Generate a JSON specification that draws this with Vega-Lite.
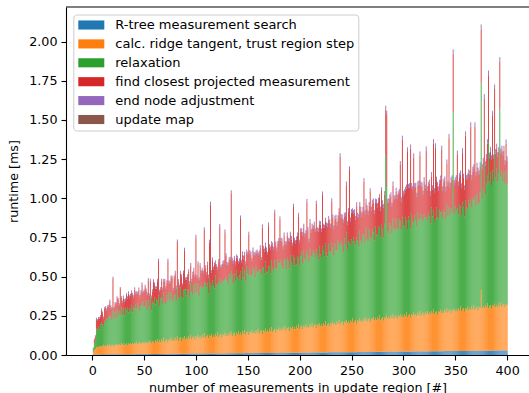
{
"$schema": "https://vega.github.io/schema/vega-lite/v6.json",
"width": 463,
"height": 348,
"autosize": {"type": "none"},
"padding": {"left": 66, "top": 7, "right": 0, "bottom": 38},
"background": "white",
"config": {
  "view": {"stroke": null},
  "font": "DejaVu Sans",
  "axis": {"domainColor": "black", "domainWidth": 1.1, "tickColor": "black", "tickWidth": 1.1, "tickSize": 5, "labelPadding": 4, "labelFontSize": 12.7, "labelColor": "black", "titleFontSize": 12.7, "titleFontWeight": "normal", "titleColor": "black", "grid": false, "labelFont": "DejaVu Sans", "titleFont": "DejaVu Sans"}
},
"data": {"values": [
{"x":1,"a":0.003,"b":0.015,"c":0.02,"d":0.005,"e":0.003,"f":0.002},
{"x":2,"a":0.003,"b":0.028,"c":0.04,"d":0.025,"e":0.005,"f":0.002},
{"x":3,"a":0.003,"b":0.035,"c":0.06,"d":0.02,"e":0.006,"f":0.002},
{"x":4,"a":0.003,"b":0.045,"c":0.12,"d":0.06,"e":0.008,"f":0.002},
{"x":5,"a":0.003,"b":0.048,"c":0.11,"d":0.06,"e":0.007,"f":0.002},
{"x":6,"a":0.003,"b":0.05,"c":0.13,"d":0.05,"e":0.008,"f":0.002},
{"x":7,"a":0.003,"b":0.05,"c":0.11,"d":0.07,"e":0.008,"f":0.002},
{"x":8,"a":0.003,"b":0.052,"c":0.14,"d":0.05,"e":0.009,"f":0.002},
{"x":9,"a":0.004,"b":0.052,"c":0.15,"d":0.08,"e":0.009,"f":0.002},
{"x":10,"a":0.004,"b":0.053,"c":0.14,"d":0.07,"e":0.009,"f":0.002},
{"x":11,"a":0.004,"b":0.061,"c":0.12,"d":0.05,"e":0.009,"f":0.002},
{"x":12,"a":0.004,"b":0.05,"c":0.17,"d":0.07,"e":0.01,"f":0.002},
{"x":13,"a":0.004,"b":0.057,"c":0.15,"d":0.09,"e":0.01,"f":0.002},
{"x":14,"a":0.004,"b":0.05,"c":0.18,"d":0.05,"e":0.01,"f":0.002},
{"x":15,"a":0.004,"b":0.062,"c":0.16,"d":0.08,"e":0.01,"f":0.002},
{"x":16,"a":0.004,"b":0.054,"c":0.19,"d":0.06,"e":0.01,"f":0.002},
{"x":17,"a":0.004,"b":0.067,"c":0.17,"d":0.1,"e":0.01,"f":0.002},
{"x":18,"a":0.004,"b":0.051,"c":0.2,"d":0.05,"e":0.01,"f":0.002},
{"x":19,"a":0.004,"b":0.059,"c":0.16,"d":0.07,"e":0.01,"f":0.002},
{"x":20,"a":0.004,"b":0.062,"c":0.22,"d":0.2,"e":0.012,"f":0.002},
{"x":21,"a":0.004,"b":0.051,"c":0.18,"d":0.06,"e":0.01,"f":0.002},
{"x":22,"a":0.004,"b":0.062,"c":0.21,"d":0.05,"e":0.01,"f":0.002},
{"x":23,"a":0.004,"b":0.059,"c":0.17,"d":0.09,"e":0.01,"f":0.002},
{"x":24,"a":0.005,"b":0.067,"c":0.22,"d":0.07,"e":0.011,"f":0.002},
{"x":25,"a":0.005,"b":0.056,"c":0.19,"d":0.1,"e":0.01,"f":0.002},
{"x":26,"a":0.005,"b":0.063,"c":0.21,"d":0.04,"e":0.011,"f":0.002},
{"x":27,"a":0.005,"b":0.056,"c":0.2,"d":0.16,"e":0.011,"f":0.002},
{"x":28,"a":0.005,"b":0.068,"c":0.23,"d":0.06,"e":0.011,"f":0.002},
{"x":29,"a":0.005,"b":0.06,"c":0.19,"d":0.08,"e":0.011,"f":0.002},
{"x":30,"a":0.005,"b":0.072,"c":0.22,"d":0.07,"e":0.011,"f":0.002},
{"x":31,"a":0.005,"b":0.057,"c":0.19,"d":0.09,"e":0.011,"f":0.002},
{"x":32,"a":0.005,"b":0.064,"c":0.23,"d":0.05,"e":0.011,"f":0.002},
{"x":33,"a":0.005,"b":0.068,"c":0.21,"d":0.1,"e":0.011,"f":0.002},
{"x":34,"a":0.005,"b":0.056,"c":0.24,"d":0.06,"e":0.012,"f":0.002},
{"x":35,"a":0.005,"b":0.068,"c":0.2,"d":0.12,"e":0.012,"f":0.002},
{"x":36,"a":0.005,"b":0.064,"c":0.23,"d":0.07,"e":0.011,"f":0.002},
{"x":37,"a":0.005,"b":0.072,"c":0.21,"d":0.09,"e":0.012,"f":0.002},
{"x":38,"a":0.005,"b":0.062,"c":0.25,"d":0.08,"e":0.012,"f":0.002},
{"x":39,"a":0.005,"b":0.068,"c":0.2,"d":0.11,"e":0.011,"f":0.002},
{"x":40,"a":0.005,"b":0.062,"c":0.24,"d":0.06,"e":0.012,"f":0.002},
{"x":41,"a":0.005,"b":0.073,"c":0.22,"d":0.12,"e":0.012,"f":0.002},
{"x":42,"a":0.005,"b":0.066,"c":0.25,"d":0.07,"e":0.012,"f":0.002},
{"x":43,"a":0.006,"b":0.078,"c":0.21,"d":0.1,"e":0.012,"f":0.002},
{"x":44,"a":0.006,"b":0.062,"c":0.26,"d":0.06,"e":0.012,"f":0.002},
{"x":45,"a":0.006,"b":0.07,"c":0.23,"d":0.11,"e":0.012,"f":0.002},
{"x":46,"a":0.006,"b":0.073,"c":0.2,"d":0.09,"e":0.012,"f":0.002},
{"x":47,"a":0.006,"b":0.062,"c":0.25,"d":0.08,"e":0.012,"f":0.002},
{"x":48,"a":0.006,"b":0.073,"c":0.24,"d":0.13,"e":0.012,"f":0.002},
{"x":49,"a":0.006,"b":0.069,"c":0.27,"d":0.05,"e":0.012,"f":0.002},
{"x":50,"a":0.006,"b":0.078,"c":0.22,"d":0.1,"e":0.012,"f":0.002},
{"x":51,"a":0.006,"b":0.068,"c":0.24,"d":0.12,"e":0.012,"f":0.002},
{"x":52,"a":0.006,"b":0.075,"c":0.27,"d":0.06,"e":0.012,"f":0.002},
{"x":53,"a":0.006,"b":0.068,"c":0.22,"d":0.09,"e":0.012,"f":0.002},
{"x":54,"a":0.006,"b":0.08,"c":0.26,"d":0.13,"e":0.013,"f":0.002},
{"x":55,"a":0.006,"b":0.073,"c":0.23,"d":0.07,"e":0.012,"f":0.002},
{"x":56,"a":0.006,"b":0.085,"c":0.28,"d":0.1,"e":0.013,"f":0.002},
{"x":57,"a":0.006,"b":0.07,"c":0.21,"d":0.08,"e":0.012,"f":0.002},
{"x":58,"a":0.006,"b":0.078,"c":0.26,"d":0.06,"e":0.013,"f":0.002},
{"x":59,"a":0.007,"b":0.081,"c":0.24,"d":0.14,"e":0.013,"f":0.002},
{"x":60,"a":0.007,"b":0.07,"c":0.29,"d":0.08,"e":0.013,"f":0.002},
{"x":61,"a":0.007,"b":0.085,"c":0.23,"d":0.1,"e":0.013,"f":0.002},
{"x":62,"a":0.007,"b":0.077,"c":0.27,"d":0.07,"e":0.013,"f":0.002},
{"x":63,"a":0.007,"b":0.094,"c":0.25,"d":0.12,"e":0.013,"f":0.002},
{"x":64,"a":0.007,"b":0.073,"c":0.3,"d":0.22,"e":0.013,"f":0.002},
{"x":65,"a":0.007,"b":0.085,"c":0.22,"d":0.09,"e":0.013,"f":0.002},
{"x":66,"a":0.007,"b":0.072,"c":0.28,"d":0.06,"e":0.013,"f":0.002},
{"x":67,"a":0.007,"b":0.095,"c":0.26,"d":0.11,"e":0.013,"f":0.002},
{"x":68,"a":0.007,"b":0.079,"c":0.24,"d":0.09,"e":0.013,"f":0.002},
{"x":69,"a":0.007,"b":0.104,"c":0.29,"d":0.07,"e":0.013,"f":0.002},
{"x":70,"a":0.007,"b":0.073,"c":0.26,"d":0.13,"e":0.013,"f":0.002},
{"x":71,"a":0.007,"b":0.087,"c":0.23,"d":0.1,"e":0.013,"f":0.002},
{"x":72,"a":0.007,"b":0.094,"c":0.28,"d":0.08,"e":0.014,"f":0.002},
{"x":73,"a":0.007,"b":0.071,"c":0.27,"d":0.25,"e":0.014,"f":0.002},
{"x":74,"a":0.007,"b":0.093,"c":0.3,"d":0.06,"e":0.014,"f":0.002},
{"x":75,"a":0.008,"b":0.086,"c":0.25,"d":0.11,"e":0.014,"f":0.002},
{"x":76,"a":0.008,"b":0.103,"c":0.29,"d":0.09,"e":0.014,"f":0.002},
{"x":77,"a":0.008,"b":0.081,"c":0.27,"d":0.13,"e":0.014,"f":0.002},
{"x":78,"a":0.008,"b":0.094,"c":0.24,"d":0.07,"e":0.014,"f":0.002},
{"x":79,"a":0.008,"b":0.081,"c":0.3,"d":0.1,"e":0.014,"f":0.002},
{"x":80,"a":0.008,"b":0.103,"c":0.27,"d":0.14,"e":0.014,"f":0.002},
{"x":81,"a":0.008,"b":0.088,"c":0.25,"d":0.08,"e":0.014,"f":0.002},
{"x":82,"a":0.008,"b":0.113,"c":0.31,"d":0.29,"e":0.014,"f":0.002},
{"x":83,"a":0.008,"b":0.081,"c":0.28,"d":0.1,"e":0.014,"f":0.002},
{"x":84,"a":0.008,"b":0.096,"c":0.26,"d":0.07,"e":0.014,"f":0.002},
{"x":85,"a":0.008,"b":0.103,"c":0.32,"d":0.09,"e":0.014,"f":0.002},
{"x":86,"a":0.008,"b":0.079,"c":0.29,"d":0.12,"e":0.014,"f":0.002},
{"x":87,"a":0.008,"b":0.102,"c":0.25,"d":0.08,"e":0.014,"f":0.002},
{"x":88,"a":0.008,"b":0.095,"c":0.31,"d":0.11,"e":0.014,"f":0.002},
{"x":89,"a":0.008,"b":0.111,"c":0.3,"d":0.25,"e":0.014,"f":0.002},
{"x":90,"a":0.008,"b":0.09,"c":0.32,"d":0.06,"e":0.014,"f":0.002},
{"x":91,"a":0.008,"b":0.103,"c":0.27,"d":0.1,"e":0.014,"f":0.002},
{"x":92,"a":0.009,"b":0.089,"c":0.32,"d":0.08,"e":0.015,"f":0.002},
{"x":93,"a":0.009,"b":0.112,"c":0.29,"d":0.12,"e":0.015,"f":0.002},
{"x":94,"a":0.009,"b":0.097,"c":0.26,"d":0.09,"e":0.015,"f":0.002},
{"x":95,"a":0.009,"b":0.121,"c":0.33,"d":0.11,"e":0.015,"f":0.002},
{"x":96,"a":0.009,"b":0.09,"c":0.3,"d":0.07,"e":0.015,"f":0.002},
{"x":97,"a":0.009,"b":0.105,"c":0.27,"d":0.13,"e":0.015,"f":0.002},
{"x":98,"a":0.009,"b":0.111,"c":0.33,"d":0.09,"e":0.015,"f":0.002},
{"x":99,"a":0.009,"b":0.088,"c":0.3,"d":0.1,"e":0.015,"f":0.002},
{"x":100,"a":0.009,"b":0.111,"c":0.34,"d":0.29,"e":0.015,"f":0.002},
{"x":101,"a":0.009,"b":0.103,"c":0.29,"d":0.09,"e":0.015,"f":0.002},
{"x":102,"a":0.009,"b":0.12,"c":0.33,"d":0.12,"e":0.015,"f":0.002},
{"x":103,"a":0.009,"b":0.098,"c":0.27,"d":0.1,"e":0.015,"f":0.002},
{"x":104,"a":0.009,"b":0.111,"c":0.31,"d":0.14,"e":0.015,"f":0.002},
{"x":105,"a":0.009,"b":0.097,"c":0.34,"d":0.08,"e":0.015,"f":0.002},
{"x":106,"a":0.009,"b":0.12,"c":0.3,"d":0.11,"e":0.015,"f":0.002},
{"x":107,"a":0.009,"b":0.104,"c":0.32,"d":0.09,"e":0.015,"f":0.002},
{"x":108,"a":0.009,"b":0.129,"c":0.33,"d":0.33,"e":0.015,"f":0.002},
{"x":109,"a":0.009,"b":0.097,"c":0.35,"d":0.1,"e":0.015,"f":0.002},
{"x":110,"a":0.01,"b":0.112,"c":0.31,"d":0.08,"e":0.015,"f":0.002},
{"x":111,"a":0.01,"b":0.118,"c":0.33,"d":0.12,"e":0.015,"f":0.002},
{"x":112,"a":0.01,"b":0.095,"c":0.29,"d":0.1,"e":0.015,"f":0.002},
{"x":113,"a":0.01,"b":0.117,"c":0.36,"d":0.23,"e":0.016,"f":0.002},
{"x":114,"a":0.01,"b":0.11,"c":0.34,"d":0.5,"e":0.016,"f":0.002},
{"x":115,"a":0.01,"b":0.126,"c":0.3,"d":0.09,"e":0.015,"f":0.002},
{"x":116,"a":0.01,"b":0.105,"c":0.36,"d":0.13,"e":0.016,"f":0.002},
{"x":117,"a":0.01,"b":0.117,"c":0.32,"d":0.1,"e":0.016,"f":0.002},
{"x":118,"a":0.01,"b":0.104,"c":0.31,"d":0.15,"e":0.016,"f":0.002},
{"x":119,"a":0.01,"b":0.126,"c":0.37,"d":0.08,"e":0.016,"f":0.002},
{"x":120,"a":0.01,"b":0.111,"c":0.33,"d":0.11,"e":0.016,"f":0.002},
{"x":121,"a":0.01,"b":0.135,"c":0.3,"d":0.1,"e":0.016,"f":0.002},
{"x":122,"a":0.01,"b":0.104,"c":0.35,"d":0.13,"e":0.016,"f":0.002},
{"x":123,"a":0.01,"b":0.118,"c":0.36,"d":0.33,"e":0.016,"f":0.002},
{"x":124,"a":0.01,"b":0.125,"c":0.32,"d":0.1,"e":0.016,"f":0.002},
{"x":125,"a":0.01,"b":0.101,"c":0.37,"d":0.08,"e":0.016,"f":0.002},
{"x":126,"a":0.01,"b":0.124,"c":0.33,"d":0.12,"e":0.016,"f":0.002},
{"x":127,"a":0.01,"b":0.116,"c":0.35,"d":0.11,"e":0.016,"f":0.002},
{"x":128,"a":0.01,"b":0.133,"c":0.34,"d":0.3,"e":0.016,"f":0.002},
{"x":129,"a":0.01,"b":0.111,"c":0.38,"d":0.13,"e":0.016,"f":0.002},
{"x":130,"a":0.011,"b":0.124,"c":0.34,"d":0.1,"e":0.016,"f":0.002},
{"x":131,"a":0.011,"b":0.111,"c":0.33,"d":0.12,"e":0.016,"f":0.002},
{"x":132,"a":0.011,"b":0.133,"c":0.37,"d":0.09,"e":0.016,"f":0.002},
{"x":133,"a":0.011,"b":0.118,"c":0.36,"d":0.12,"e":0.016,"f":0.002},
{"x":134,"a":0.011,"b":0.142,"c":0.38,"d":0.5,"e":0.017,"f":0.002},
{"x":135,"a":0.011,"b":0.111,"c":0.39,"d":0.09,"e":0.016,"f":0.002},
{"x":136,"a":0.011,"b":0.125,"c":0.32,"d":0.13,"e":0.016,"f":0.002},
{"x":137,"a":0.011,"b":0.132,"c":0.37,"d":0.1,"e":0.016,"f":0.002},
{"x":138,"a":0.011,"b":0.108,"c":0.35,"d":0.11,"e":0.016,"f":0.002},
{"x":139,"a":0.011,"b":0.131,"c":0.4,"d":0.08,"e":0.017,"f":0.002},
{"x":140,"a":0.011,"b":0.123,"c":0.36,"d":0.12,"e":0.017,"f":0.002},
{"x":141,"a":0.011,"b":0.14,"c":0.33,"d":0.1,"e":0.017,"f":0.002},
{"x":142,"a":0.011,"b":0.118,"c":0.38,"d":0.09,"e":0.017,"f":0.002},
{"x":143,"a":0.011,"b":0.131,"c":0.39,"d":0.34,"e":0.017,"f":0.002},
{"x":144,"a":0.011,"b":0.117,"c":0.35,"d":0.11,"e":0.017,"f":0.002},
{"x":145,"a":0.011,"b":0.14,"c":0.41,"d":0.08,"e":0.017,"f":0.002},
{"x":146,"a":0.011,"b":0.124,"c":0.36,"d":0.12,"e":0.017,"f":0.002},
{"x":147,"a":0.011,"b":0.149,"c":0.38,"d":0.1,"e":0.017,"f":0.002},
{"x":148,"a":0.012,"b":0.117,"c":0.34,"d":0.11,"e":0.017,"f":0.002},
{"x":149,"a":0.012,"b":0.132,"c":0.42,"d":0.09,"e":0.017,"f":0.002},
{"x":150,"a":0.012,"b":0.138,"c":0.37,"d":0.12,"e":0.017,"f":0.002},
{"x":151,"a":0.012,"b":0.115,"c":0.38,"d":0.26,"e":0.017,"f":0.002},
{"x":152,"a":0.012,"b":0.137,"c":0.4,"d":0.1,"e":0.017,"f":0.002},
{"x":153,"a":0.012,"b":0.13,"c":0.37,"d":0.13,"e":0.017,"f":0.002},
{"x":154,"a":0.012,"b":0.146,"c":0.35,"d":0.09,"e":0.017,"f":0.002},
{"x":155,"a":0.012,"b":0.125,"c":0.42,"d":0.11,"e":0.017,"f":0.002},
{"x":156,"a":0.012,"b":0.137,"c":0.39,"d":0.1,"e":0.017,"f":0.002},
{"x":157,"a":0.012,"b":0.124,"c":0.36,"d":0.14,"e":0.017,"f":0.002},
{"x":158,"a":0.012,"b":0.146,"c":0.41,"d":0.08,"e":0.017,"f":0.002},
{"x":159,"a":0.012,"b":0.131,"c":0.39,"d":0.12,"e":0.017,"f":0.002},
{"x":160,"a":0.012,"b":0.155,"c":0.36,"d":0.11,"e":0.017,"f":0.002},
{"x":161,"a":0.012,"b":0.124,"c":0.41,"d":0.1,"e":0.017,"f":0.002},
{"x":162,"a":0.012,"b":0.139,"c":0.39,"d":0.14,"e":0.018,"f":0.002},
{"x":163,"a":0.012,"b":0.145,"c":0.36,"d":0.09,"e":0.017,"f":0.002},
{"x":164,"a":0.012,"b":0.122,"c":0.42,"d":0.26,"e":0.018,"f":0.002},
{"x":165,"a":0.012,"b":0.145,"c":0.4,"d":0.12,"e":0.018,"f":0.002},
{"x":166,"a":0.012,"b":0.137,"c":0.37,"d":0.14,"e":0.018,"f":0.002},
{"x":167,"a":0.013,"b":0.154,"c":0.43,"d":0.1,"e":0.018,"f":0.002},
{"x":168,"a":0.013,"b":0.133,"c":0.39,"d":0.13,"e":0.018,"f":0.002},
{"x":169,"a":0.013,"b":0.145,"c":0.37,"d":0.11,"e":0.018,"f":0.002},
{"x":170,"a":0.013,"b":0.132,"c":0.42,"d":0.26,"e":0.018,"f":0.002},
{"x":171,"a":0.013,"b":0.155,"c":0.4,"d":0.12,"e":0.018,"f":0.002},
{"x":172,"a":0.013,"b":0.139,"c":0.37,"d":0.15,"e":0.018,"f":0.002},
{"x":173,"a":0.013,"b":0.164,"c":0.43,"d":0.1,"e":0.018,"f":0.002},
{"x":174,"a":0.013,"b":0.133,"c":0.41,"d":0.14,"e":0.018,"f":0.002},
{"x":175,"a":0.013,"b":0.147,"c":0.38,"d":0.13,"e":0.018,"f":0.002},
{"x":176,"a":0.013,"b":0.154,"c":0.44,"d":0.3,"e":0.018,"f":0.002},
{"x":177,"a":0.013,"b":0.131,"c":0.41,"d":0.15,"e":0.018,"f":0.002},
{"x":178,"a":0.013,"b":0.153,"c":0.38,"d":0.12,"e":0.018,"f":0.002},
{"x":179,"a":0.013,"b":0.146,"c":0.45,"d":0.1,"e":0.018,"f":0.002},
{"x":180,"a":0.013,"b":0.163,"c":0.41,"d":0.14,"e":0.018,"f":0.002},
{"x":181,"a":0.013,"b":0.141,"c":0.43,"d":0.28,"e":0.018,"f":0.002},
{"x":182,"a":0.014,"b":0.154,"c":0.44,"d":0.12,"e":0.018,"f":0.002},
{"x":183,"a":0.014,"b":0.141,"c":0.41,"d":0.16,"e":0.018,"f":0.002},
{"x":184,"a":0.014,"b":0.163,"c":0.37,"d":0.13,"e":0.018,"f":0.002},
{"x":185,"a":0.014,"b":0.148,"c":0.45,"d":0.15,"e":0.018,"f":0.002},
{"x":186,"a":0.014,"b":0.173,"c":0.42,"d":0.1,"e":0.018,"f":0.002},
{"x":187,"a":0.014,"b":0.141,"c":0.39,"d":0.16,"e":0.018,"f":0.002},
{"x":188,"a":0.014,"b":0.156,"c":0.45,"d":0.14,"e":0.019,"f":0.002},
{"x":189,"a":0.014,"b":0.163,"c":0.43,"d":0.12,"e":0.019,"f":0.002},
{"x":190,"a":0.014,"b":0.139,"c":0.4,"d":0.17,"e":0.019,"f":0.002},
{"x":191,"a":0.014,"b":0.162,"c":0.46,"d":0.13,"e":0.019,"f":0.002},
{"x":192,"a":0.014,"b":0.155,"c":0.42,"d":0.15,"e":0.019,"f":0.002},
{"x":193,"a":0.014,"b":0.171,"c":0.39,"d":0.12,"e":0.019,"f":0.002},
{"x":194,"a":0.014,"b":0.15,"c":0.47,"d":0.31,"e":0.019,"f":0.002},
{"x":195,"a":0.014,"b":0.163,"c":0.44,"d":0.11,"e":0.019,"f":0.002},
{"x":196,"a":0.014,"b":0.149,"c":0.41,"d":0.14,"e":0.019,"f":0.002},
{"x":197,"a":0.014,"b":0.172,"c":0.39,"d":0.16,"e":0.019,"f":0.002},
{"x":198,"a":0.014,"b":0.157,"c":0.46,"d":0.13,"e":0.019,"f":0.002},
{"x":199,"a":0.015,"b":0.181,"c":0.43,"d":0.26,"e":0.019,"f":0.002},
{"x":200,"a":0.015,"b":0.15,"c":0.41,"d":0.14,"e":0.019,"f":0.002},
{"x":201,"a":0.015,"b":0.165,"c":0.45,"d":0.16,"e":0.019,"f":0.002},
{"x":202,"a":0.015,"b":0.171,"c":0.47,"d":0.13,"e":0.019,"f":0.002},
{"x":203,"a":0.015,"b":0.148,"c":0.42,"d":0.18,"e":0.019,"f":0.002},
{"x":204,"a":0.015,"b":0.171,"c":0.48,"d":0.15,"e":0.019,"f":0.002},
{"x":205,"a":0.015,"b":0.163,"c":0.44,"d":0.14,"e":0.019,"f":0.002},
{"x":206,"a":0.015,"b":0.18,"c":0.41,"d":0.17,"e":0.019,"f":0.002},
{"x":207,"a":0.015,"b":0.159,"c":0.49,"d":0.31,"e":0.02,"f":0.002},
{"x":208,"a":0.015,"b":0.171,"c":0.45,"d":0.16,"e":0.019,"f":0.002},
{"x":209,"a":0.015,"b":0.158,"c":0.42,"d":0.13,"e":0.019,"f":0.002},
{"x":210,"a":0.015,"b":0.181,"c":0.48,"d":0.17,"e":0.02,"f":0.002},
{"x":211,"a":0.015,"b":0.165,"c":0.45,"d":0.15,"e":0.02,"f":0.002},
{"x":212,"a":0.016,"b":0.19,"c":0.42,"d":0.19,"e":0.02,"f":0.002},
{"x":213,"a":0.016,"b":0.159,"c":0.49,"d":0.14,"e":0.02,"f":0.002},
{"x":214,"a":0.016,"b":0.173,"c":0.46,"d":0.18,"e":0.02,"f":0.002},
{"x":215,"a":0.016,"b":0.18,"c":0.43,"d":0.16,"e":0.02,"f":0.002},
{"x":216,"a":0.016,"b":0.157,"c":0.5,"d":0.29,"e":0.02,"f":0.002},
{"x":217,"a":0.016,"b":0.179,"c":0.45,"d":0.15,"e":0.02,"f":0.002},
{"x":218,"a":0.016,"b":0.172,"c":0.42,"d":0.18,"e":0.02,"f":0.002},
{"x":219,"a":0.016,"b":0.188,"c":0.49,"d":0.14,"e":0.02,"f":0.002},
{"x":220,"a":0.016,"b":0.167,"c":0.46,"d":0.19,"e":0.02,"f":0.002},
{"x":221,"a":0.016,"b":0.18,"c":0.43,"d":0.16,"e":0.02,"f":0.002},
{"x":222,"a":0.016,"b":0.166,"c":0.51,"d":0.33,"e":0.02,"f":0.002},
{"x":223,"a":0.016,"b":0.189,"c":0.46,"d":0.15,"e":0.02,"f":0.002},
{"x":224,"a":0.016,"b":0.174,"c":0.44,"d":0.18,"e":0.02,"f":0.002},
{"x":225,"a":0.016,"b":0.198,"c":0.5,"d":0.14,"e":0.02,"f":0.002},
{"x":226,"a":0.016,"b":0.167,"c":0.47,"d":0.17,"e":0.02,"f":0.002},
{"x":227,"a":0.016,"b":0.182,"c":0.43,"d":0.19,"e":0.02,"f":0.002},
{"x":228,"a":0.017,"b":0.188,"c":0.51,"d":0.15,"e":0.02,"f":0.002},
{"x":229,"a":0.017,"b":0.165,"c":0.48,"d":0.18,"e":0.02,"f":0.002},
{"x":230,"a":0.017,"b":0.188,"c":0.45,"d":0.16,"e":0.02,"f":0.002},
{"x":231,"a":0.017,"b":0.18,"c":0.52,"d":0.26,"e":0.021,"f":0.002},
{"x":232,"a":0.017,"b":0.197,"c":0.47,"d":0.19,"e":0.021,"f":0.002},
{"x":233,"a":0.017,"b":0.176,"c":0.44,"d":0.17,"e":0.021,"f":0.002},
{"x":234,"a":0.017,"b":0.188,"c":0.51,"d":0.15,"e":0.021,"f":0.002},
{"x":235,"a":0.017,"b":0.175,"c":0.48,"d":0.2,"e":0.021,"f":0.002},
{"x":236,"a":0.017,"b":0.198,"c":0.45,"d":0.16,"e":0.021,"f":0.002},
{"x":237,"a":0.017,"b":0.182,"c":0.53,"d":0.14,"e":0.021,"f":0.002},
{"x":238,"a":0.017,"b":0.207,"c":0.49,"d":0.2,"e":0.021,"f":0.002},
{"x":239,"a":0.017,"b":0.176,"c":0.5,"d":0.57,"e":0.022,"f":0.002},
{"x":240,"a":0.017,"b":0.19,"c":0.52,"d":0.15,"e":0.021,"f":0.002},
{"x":241,"a":0.017,"b":0.197,"c":0.49,"d":0.17,"e":0.021,"f":0.002},
{"x":242,"a":0.018,"b":0.174,"c":0.46,"d":0.19,"e":0.021,"f":0.002},
{"x":243,"a":0.018,"b":0.196,"c":0.53,"d":0.14,"e":0.021,"f":0.002},
{"x":244,"a":0.018,"b":0.189,"c":0.5,"d":0.18,"e":0.021,"f":0.002},
{"x":245,"a":0.018,"b":0.206,"c":0.56,"d":0.3,"e":0.022,"f":0.002},
{"x":246,"a":0.018,"b":0.184,"c":0.47,"d":0.16,"e":0.021,"f":0.002},
{"x":247,"a":0.018,"b":0.197,"c":0.51,"d":0.19,"e":0.021,"f":0.002},
{"x":248,"a":0.018,"b":0.183,"c":0.52,"d":0.46,"e":0.022,"f":0.002},
{"x":249,"a":0.018,"b":0.206,"c":0.48,"d":0.15,"e":0.021,"f":0.002},
{"x":250,"a":0.018,"b":0.191,"c":0.53,"d":0.17,"e":0.021,"f":0.002},
{"x":251,"a":0.018,"b":0.215,"c":0.49,"d":0.19,"e":0.021,"f":0.002},
{"x":252,"a":0.018,"b":0.184,"c":0.55,"d":0.15,"e":0.022,"f":0.002},
{"x":253,"a":0.018,"b":0.199,"c":0.51,"d":0.18,"e":0.022,"f":0.002},
{"x":254,"a":0.018,"b":0.205,"c":0.48,"d":0.16,"e":0.022,"f":0.002},
{"x":255,"a":0.018,"b":0.182,"c":0.55,"d":0.2,"e":0.022,"f":0.002},
{"x":256,"a":0.019,"b":0.205,"c":0.51,"d":0.15,"e":0.022,"f":0.002},
{"x":257,"a":0.019,"b":0.197,"c":0.48,"d":0.18,"e":0.022,"f":0.002},
{"x":258,"a":0.019,"b":0.214,"c":0.56,"d":0.16,"e":0.022,"f":0.002},
{"x":259,"a":0.019,"b":0.193,"c":0.52,"d":0.19,"e":0.022,"f":0.002},
{"x":260,"a":0.019,"b":0.205,"c":0.49,"d":0.17,"e":0.022,"f":0.002},
{"x":261,"a":0.019,"b":0.192,"c":0.56,"d":0.15,"e":0.022,"f":0.002},
{"x":262,"a":0.019,"b":0.215,"c":0.53,"d":0.34,"e":0.022,"f":0.002},
{"x":263,"a":0.019,"b":0.199,"c":0.5,"d":0.18,"e":0.022,"f":0.002},
{"x":264,"a":0.019,"b":0.224,"c":0.57,"d":0.16,"e":0.022,"f":0.002},
{"x":265,"a":0.019,"b":0.193,"c":0.53,"d":0.19,"e":0.022,"f":0.002},
{"x":266,"a":0.019,"b":0.207,"c":0.5,"d":0.17,"e":0.022,"f":0.002},
{"x":267,"a":0.019,"b":0.214,"c":0.57,"d":0.15,"e":0.022,"f":0.002},
{"x":268,"a":0.019,"b":0.191,"c":0.54,"d":0.29,"e":0.022,"f":0.002},
{"x":269,"a":0.019,"b":0.213,"c":0.51,"d":0.18,"e":0.022,"f":0.002},
{"x":270,"a":0.02,"b":0.206,"c":0.58,"d":0.16,"e":0.022,"f":0.002},
{"x":271,"a":0.02,"b":0.223,"c":0.54,"d":0.19,"e":0.023,"f":0.002},
{"x":272,"a":0.02,"b":0.201,"c":0.51,"d":0.17,"e":0.023,"f":0.002},
{"x":273,"a":0.02,"b":0.214,"c":0.59,"d":0.15,"e":0.023,"f":0.002},
{"x":274,"a":0.02,"b":0.201,"c":0.55,"d":0.2,"e":0.023,"f":0.002},
{"x":275,"a":0.02,"b":0.223,"c":0.52,"d":0.18,"e":0.023,"f":0.002},
{"x":276,"a":0.02,"b":0.208,"c":0.59,"d":0.16,"e":0.023,"f":0.002},
{"x":277,"a":0.02,"b":0.232,"c":0.56,"d":0.19,"e":0.023,"f":0.002},
{"x":278,"a":0.02,"b":0.201,"c":0.53,"d":0.17,"e":0.023,"f":0.002},
{"x":279,"a":0.02,"b":0.216,"c":0.6,"d":0.21,"e":0.023,"f":0.002},
{"x":280,"a":0.02,"b":0.222,"c":0.56,"d":0.16,"e":0.023,"f":0.002},
{"x":281,"a":0.02,"b":0.199,"c":0.53,"d":0.19,"e":0.023,"f":0.002},
{"x":282,"a":0.02,"b":0.222,"c":0.6,"d":0.18,"e":0.023,"f":0.002},
{"x":283,"a":0.021,"b":0.214,"c":1.04,"d":0.29,"e":0.023,"f":0.002},
{"x":284,"a":0.021,"b":0.231,"c":0.82,"d":0.46,"e":0.023,"f":0.002},
{"x":285,"a":0.021,"b":0.21,"c":0.56,"d":0.18,"e":0.023,"f":0.002},
{"x":286,"a":0.021,"b":0.222,"c":0.53,"d":0.2,"e":0.023,"f":0.002},
{"x":287,"a":0.021,"b":0.209,"c":0.61,"d":0.16,"e":0.023,"f":0.002},
{"x":288,"a":0.021,"b":0.232,"c":0.57,"d":0.19,"e":0.023,"f":0.002},
{"x":289,"a":0.021,"b":0.216,"c":0.54,"d":0.17,"e":0.023,"f":0.002},
{"x":290,"a":0.021,"b":0.241,"c":0.61,"d":0.21,"e":0.023,"f":0.002},
{"x":291,"a":0.021,"b":0.21,"c":0.58,"d":0.18,"e":0.023,"f":0.002},
{"x":292,"a":0.021,"b":0.224,"c":0.55,"d":0.2,"e":0.024,"f":0.002},
{"x":293,"a":0.021,"b":0.231,"c":0.62,"d":0.17,"e":0.024,"f":0.002},
{"x":294,"a":0.021,"b":0.208,"c":0.58,"d":0.19,"e":0.024,"f":0.002},
{"x":295,"a":0.021,"b":0.23,"c":0.55,"d":0.22,"e":0.024,"f":0.002},
{"x":296,"a":0.021,"b":0.223,"c":0.62,"d":0.17,"e":0.024,"f":0.002},
{"x":297,"a":0.022,"b":0.24,"c":0.59,"d":0.36,"e":0.024,"f":0.002},
{"x":298,"a":0.022,"b":0.218,"c":0.56,"d":0.18,"e":0.024,"f":0.002},
{"x":299,"a":0.022,"b":0.231,"c":0.63,"d":0.49,"e":0.024,"f":0.002},
{"x":300,"a":0.022,"b":0.218,"c":0.59,"d":0.19,"e":0.024,"f":0.002},
{"x":301,"a":0.022,"b":0.24,"c":0.56,"d":0.21,"e":0.024,"f":0.002},
{"x":302,"a":0.022,"b":0.225,"c":0.63,"d":0.17,"e":0.024,"f":0.002},
{"x":303,"a":0.022,"b":0.25,"c":0.59,"d":0.2,"e":0.024,"f":0.002},
{"x":304,"a":0.022,"b":0.218,"c":0.56,"d":0.5,"e":0.024,"f":0.002},
{"x":305,"a":0.022,"b":0.233,"c":0.63,"d":0.18,"e":0.024,"f":0.002},
{"x":306,"a":0.022,"b":0.239,"c":0.6,"d":0.21,"e":0.024,"f":0.002},
{"x":307,"a":0.022,"b":0.216,"c":0.57,"d":0.51,"e":0.024,"f":0.002},
{"x":308,"a":0.022,"b":0.239,"c":0.64,"d":0.17,"e":0.024,"f":0.002},
{"x":309,"a":0.022,"b":0.231,"c":0.6,"d":0.2,"e":0.024,"f":0.002},
{"x":310,"a":0.023,"b":0.248,"c":0.57,"d":0.42,"e":0.024,"f":0.002},
{"x":311,"a":0.023,"b":0.227,"c":0.64,"d":0.18,"e":0.024,"f":0.002},
{"x":312,"a":0.023,"b":0.239,"c":0.6,"d":0.21,"e":0.025,"f":0.002},
{"x":313,"a":0.023,"b":0.226,"c":0.57,"d":0.19,"e":0.025,"f":0.002},
{"x":314,"a":0.023,"b":0.249,"c":0.64,"d":0.17,"e":0.025,"f":0.002},
{"x":315,"a":0.023,"b":0.233,"c":0.61,"d":0.22,"e":0.025,"f":0.002},
{"x":316,"a":0.023,"b":0.258,"c":0.58,"d":0.41,"e":0.025,"f":0.002},
{"x":317,"a":0.023,"b":0.227,"c":0.65,"d":0.18,"e":0.025,"f":0.002},
{"x":318,"a":0.023,"b":0.241,"c":0.61,"d":0.2,"e":0.025,"f":0.002},
{"x":319,"a":0.023,"b":0.248,"c":0.58,"d":0.17,"e":0.025,"f":0.002},
{"x":320,"a":0.023,"b":0.225,"c":0.65,"d":0.21,"e":0.025,"f":0.002},
{"x":321,"a":0.023,"b":0.247,"c":0.61,"d":0.18,"e":0.025,"f":0.002},
{"x":322,"a":0.023,"b":0.24,"c":0.62,"d":0.42,"e":0.025,"f":0.002},
{"x":323,"a":0.023,"b":0.257,"c":0.58,"d":0.19,"e":0.025,"f":0.002},
{"x":324,"a":0.023,"b":0.235,"c":0.65,"d":0.17,"e":0.025,"f":0.002},
{"x":325,"a":0.024,"b":0.248,"c":0.61,"d":0.21,"e":0.025,"f":0.002},
{"x":326,"a":0.024,"b":0.235,"c":0.58,"d":0.18,"e":0.025,"f":0.002},
{"x":327,"a":0.024,"b":0.257,"c":0.66,"d":0.2,"e":0.025,"f":0.002},
{"x":328,"a":0.024,"b":0.242,"c":0.62,"d":0.17,"e":0.025,"f":0.002},
{"x":329,"a":0.024,"b":0.267,"c":0.63,"d":0.43,"e":0.025,"f":0.002},
{"x":330,"a":0.024,"b":0.235,"c":0.59,"d":0.19,"e":0.025,"f":0.002},
{"x":331,"a":0.024,"b":0.25,"c":0.6,"d":0.45,"e":0.025,"f":0.002},
{"x":332,"a":0.024,"b":0.257,"c":0.66,"d":0.17,"e":0.025,"f":0.002},
{"x":333,"a":0.024,"b":0.233,"c":0.62,"d":0.2,"e":0.025,"f":0.002},
{"x":334,"a":0.024,"b":0.256,"c":0.59,"d":0.18,"e":0.025,"f":0.002},
{"x":335,"a":0.024,"b":0.248,"c":0.66,"d":0.16,"e":0.025,"f":0.002},
{"x":336,"a":0.024,"b":0.265,"c":0.62,"d":0.21,"e":0.025,"f":0.002},
{"x":337,"a":0.024,"b":0.244,"c":0.64,"d":0.4,"e":0.026,"f":0.002},
{"x":338,"a":0.024,"b":0.256,"c":0.59,"d":0.18,"e":0.025,"f":0.002},
{"x":339,"a":0.024,"b":0.243,"c":0.66,"d":0.17,"e":0.025,"f":0.002},
{"x":340,"a":0.025,"b":0.266,"c":0.62,"d":0.2,"e":0.026,"f":0.002},
{"x":341,"a":0.025,"b":0.25,"c":0.59,"d":0.18,"e":0.026,"f":0.002},
{"x":342,"a":0.025,"b":0.275,"c":0.66,"d":0.26,"e":0.026,"f":0.002},
{"x":343,"a":0.025,"b":0.244,"c":0.62,"d":0.19,"e":0.026,"f":0.002},
{"x":344,"a":0.025,"b":0.258,"c":0.66,"d":0.44,"e":0.026,"f":0.002},
{"x":345,"a":0.025,"b":0.265,"c":0.6,"d":0.18,"e":0.026,"f":0.002},
{"x":346,"a":0.025,"b":0.242,"c":0.67,"d":0.17,"e":0.026,"f":0.002},
{"x":347,"a":0.025,"b":0.264,"c":0.63,"d":0.2,"e":0.026,"f":0.002},
{"x":348,"a":0.025,"b":0.257,"c":1.27,"d":0.37,"e":0.027,"f":0.002},
{"x":349,"a":0.025,"b":0.274,"c":0.6,"d":0.19,"e":0.026,"f":0.002},
{"x":350,"a":0.025,"b":0.252,"c":0.67,"d":0.16,"e":0.026,"f":0.002},
{"x":351,"a":0.025,"b":0.265,"c":0.63,"d":0.2,"e":0.026,"f":0.002},
{"x":352,"a":0.025,"b":0.252,"c":0.66,"d":0.34,"e":0.026,"f":0.002},
{"x":353,"a":0.025,"b":0.274,"c":0.6,"d":0.18,"e":0.026,"f":0.002},
{"x":354,"a":0.025,"b":0.259,"c":0.68,"d":0.17,"e":0.026,"f":0.002},
{"x":355,"a":0.026,"b":0.284,"c":0.64,"d":0.2,"e":0.026,"f":0.002},
{"x":356,"a":0.026,"b":0.252,"c":0.61,"d":0.18,"e":0.026,"f":0.002},
{"x":357,"a":0.026,"b":0.267,"c":0.68,"d":0.32,"e":0.026,"f":0.002},
{"x":358,"a":0.026,"b":0.273,"c":0.64,"d":0.19,"e":0.026,"f":0.002},
{"x":359,"a":0.026,"b":0.25,"c":0.61,"d":0.17,"e":0.026,"f":0.002},
{"x":360,"a":0.026,"b":0.273,"c":0.69,"d":0.41,"e":0.027,"f":0.002},
{"x":361,"a":0.026,"b":0.265,"c":0.65,"d":0.18,"e":0.026,"f":0.002},
{"x":362,"a":0.026,"b":0.282,"c":0.62,"d":0.2,"e":0.026,"f":0.002},
{"x":363,"a":0.026,"b":0.261,"c":0.7,"d":0.17,"e":0.027,"f":0.002},
{"x":364,"a":0.026,"b":0.273,"c":0.66,"d":0.19,"e":0.027,"f":0.002},
{"x":365,"a":0.026,"b":0.26,"c":0.71,"d":0.46,"e":0.027,"f":0.002},
{"x":366,"a":0.026,"b":0.283,"c":0.63,"d":0.18,"e":0.027,"f":0.002},
{"x":367,"a":0.026,"b":0.267,"c":0.71,"d":0.17,"e":0.027,"f":0.002},
{"x":368,"a":0.026,"b":0.292,"c":0.67,"d":0.2,"e":0.027,"f":0.002},
{"x":369,"a":0.026,"b":0.261,"c":0.72,"d":0.45,"e":0.027,"f":0.002},
{"x":370,"a":0.026,"b":0.275,"c":0.65,"d":0.19,"e":0.027,"f":0.002},
{"x":371,"a":0.026,"b":0.282,"c":0.72,"d":0.17,"e":0.027,"f":0.002},
{"x":372,"a":0.027,"b":0.259,"c":0.68,"d":0.2,"e":0.027,"f":0.002},
{"x":373,"a":0.027,"b":0.281,"c":0.66,"d":0.18,"e":0.027,"f":0.002},
{"x":374,"a":0.027,"b":0.274,"c":0.74,"d":0.16,"e":0.027,"f":0.002},
{"x":375,"a":0.027,"b":0.39,"c":1.32,"d":0.34,"e":0.03,"f":0.002},
{"x":376,"a":0.027,"b":0.269,"c":0.7,"d":0.19,"e":0.027,"f":0.002},
{"x":377,"a":0.027,"b":0.282,"c":0.75,"d":0.17,"e":0.027,"f":0.002},
{"x":378,"a":0.027,"b":0.269,"c":0.92,"d":0.42,"e":0.028,"f":0.002},
{"x":379,"a":0.027,"b":0.291,"c":0.71,"d":0.18,"e":0.027,"f":0.002},
{"x":380,"a":0.027,"b":0.276,"c":0.79,"d":0.16,"e":0.027,"f":0.002},
{"x":381,"a":0.027,"b":0.301,"c":0.82,"d":0.2,"e":0.027,"f":0.002},
{"x":382,"a":0.027,"b":0.269,"c":1.07,"d":0.42,"e":0.028,"f":0.002},
{"x":383,"a":0.027,"b":0.284,"c":0.8,"d":0.15,"e":0.027,"f":0.002},
{"x":384,"a":0.027,"b":0.291,"c":0.85,"d":0.13,"e":0.027,"f":0.002},
{"x":385,"a":0.028,"b":0.267,"c":0.79,"d":0.16,"e":0.027,"f":0.002},
{"x":386,"a":0.028,"b":0.29,"c":0.86,"d":0.35,"e":0.028,"f":0.002},
{"x":387,"a":0.028,"b":0.283,"c":0.8,"d":0.14,"e":0.027,"f":0.002},
{"x":388,"a":0.028,"b":0.299,"c":0.97,"d":0.4,"e":0.028,"f":0.002},
{"x":389,"a":0.028,"b":0.278,"c":0.83,"d":0.15,"e":0.027,"f":0.002},
{"x":390,"a":0.028,"b":0.291,"c":0.87,"d":0.13,"e":0.027,"f":0.002},
{"x":391,"a":0.028,"b":0.277,"c":0.8,"d":0.16,"e":0.027,"f":0.002},
{"x":392,"a":0.028,"b":0.3,"c":0.83,"d":0.14,"e":0.027,"f":0.002},
{"x":393,"a":0.028,"b":0.284,"c":1.26,"d":0.3,"e":0.028,"f":0.002},
{"x":394,"a":0.028,"b":0.309,"c":0.8,"d":0.15,"e":0.027,"f":0.002},
{"x":395,"a":0.028,"b":0.278,"c":0.87,"d":0.13,"e":0.027,"f":0.002},
{"x":396,"a":0.028,"b":0.292,"c":0.79,"d":0.16,"e":0.027,"f":0.002},
{"x":397,"a":0.028,"b":0.299,"c":0.84,"d":0.14,"e":0.027,"f":0.002},
{"x":398,"a":0.028,"b":0.276,"c":0.79,"d":0.12,"e":0.027,"f":0.002},
{"x":399,"a":0.028,"b":0.298,"c":0.85,"d":0.17,"e":0.027,"f":0.002},
{"x":400,"a":0.028,"b":0.291,"c":0.77,"d":0.15,"e":0.027,"f":0.002}
]},
"layer": [
  {
    "transform": [{"fold": ["a", "b", "c", "d", "e", "f"], "as": ["k", "v"]}],
    "mark": {"type": "bar", "width": 0.85, "opacity": 1},
    "encoding": {
      "x": {"field": "x", "type": "quantitative", "scale": {"domain": [-20.47, 416.3], "nice": false, "zero": false},
            "axis": {"values": [0, 50, 100, 150, 200, 250, 300, 350, 400], "title": "number of measurements in update region [#]", "titlePadding": 5}},
      "y": {"field": "v", "type": "quantitative", "stack": "zero", "scale": {"domain": [0, 2.2208], "nice": false},
            "axis": {"values": [0, 0.25, 0.5, 0.75, 1, 1.25, 1.5, 1.75, 2], "format": ".2f", "title": "runtime [ms]", "titlePadding": 8}},
      "color": {"field": "k", "type": "nominal",
        "scale": {"domain": ["a", "b", "c", "d", "e", "f"], "range": ["#1f77b4", "#ff7f0e", "#2ca02c", "#d62728", "#9467bd", "#8c564b"]},
        "legend": {"title": null, "orient": "none", "legendX": 7.3, "legendY": 7.5,
          "labelExpr": "datum.label == 'a' ? 'R-tree measurement search' : datum.label == 'b' ? 'calc. ridge tangent, trust region step' : datum.label == 'c' ? 'relaxation' : datum.label == 'd' ? 'find closest projected measurement' : datum.label == 'e' ? 'end node adjustment' : 'update map'",
          "symbolType": "M-2,-0.7H2V0.7H-2Z", "symbolSize": 169, "symbolStrokeWidth": 0, "symbolOpacity": 1, "symbolOffset": 7.5,
          "labelFontSize": 13, "labelFont": "DejaVu Sans", "labelColor": "black", "labelOffset": 17.5, "labelLimit": 0,
          "rowPadding": 4.9, "padding": 4, "fillColor": "rgba(255,255,255,0.8)", "strokeColor": "#cccccc", "cornerRadius": 3}},
      "order": {"field": "k", "sort": "ascending"}
    }
  },
  {
    "data": {"values": [{"top": 2.2208}]},
    "mark": {"type": "rule", "color": "black", "strokeWidth": 1.1},
    "encoding": {"y": {"field": "top", "type": "quantitative"}}
  }
]
}
